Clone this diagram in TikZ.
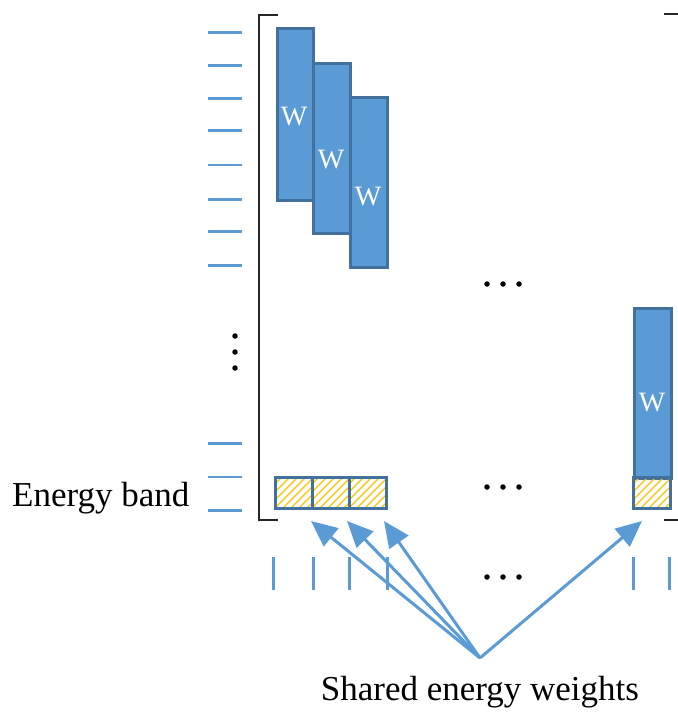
\documentclass[tikz,border=0pt]{standalone}
\usepackage{fontspec}
\setmainfont{Liberation Serif}
\usetikzlibrary{arrows.meta}
\definecolor{wfill}{HTML}{5B9BD5}
\definecolor{wedge}{HTML}{41719C}
\definecolor{hatchc}{HTML}{FFC000}
\tikzset{
  x=1pt, y=-1pt,
  wbox/.style={draw=wedge, fill=wfill, line width=3pt, inner sep=0pt, anchor=north west},
  wlabel/.style={text=white, font=\fontsize{28}{28}\selectfont},
  tick/.style={draw=wfill, line width=3pt},
  thintick/.style={draw=wfill, line width=1.5pt},
  brk/.style={draw=black!85, line width=1.6pt},
  arr/.style={draw=wfill, line width=3pt, -{Triangle[length=26pt,width=23pt]}},
  dot/.style={circle, fill=black, inner sep=0pt, minimum size=5.5pt},
  lbl/.style={font=\fontsize{35}{35}\selectfont},
}
\newcommand{\hatchcell}[2]{%
  % one hatched energy-band cell with its upper-left corner at (#1,#2)
  \begin{scope}
    \clip (#1,#2) rectangle ++(37,31);
    \foreach \k in {-40,-32,...,40}
      \draw[hatchc, line width=1.3pt] (#1+\k,#2+31) -- ++(31,-31);
  \end{scope}
  \draw[wedge, line width=3pt] (#1,#2) rectangle ++(37,31);
}
% three dots in a row (horizontal) centred at (#1,#2)
\newcommand{\hdots}[2]{%
  \foreach \dd in {-16,0,16}
    \node[dot] at (#1+\dd,#2) {};
}
\begin{document}
\begin{tikzpicture}
\useasboundingbox (0,0) rectangle (678,713);

% energy-band ticks on the left
\foreach \yy in {32,65,98,130,199,231,265,443,510}
  \draw[tick] (208,\yy) -- (242,\yy);
\foreach \yy in {165,477}
  \draw[thintick] (208,\yy) -- (242,\yy);
\foreach \yy in {336,352,368}
  \node[dot] at (235,\yy) {};

% matrix brackets
\draw[brk] (278,15) -- (259,15) -- (259,520) -- (278,520);
\draw[brk] (664,14) -- (678,14);
\draw[brk] (664,520) -- (678,520);

% weight columns
\node[wbox, minimum width=36pt, minimum height=172pt] (w1) at (276,27) {};
\node[wbox, minimum width=37pt, minimum height=170pt] (w2) at (312,62) {};
\node[wbox, minimum width=37pt, minimum height=170pt] (w3) at (349,96) {};
\node[wbox, minimum width=37pt, minimum height=170pt] (w4) at (633,307) {};
\node[wlabel] (lw1) at (294,117) {W};
\node[wlabel] (lw2) at (331,160) {W};
\node[wlabel] (lw3) at (368,197) {W};
\node[wlabel] (lw4) at (652,403) {W};

% hatched energy-band cells
\hatchcell{275}{477}
\hatchcell{312}{477}
\hatchcell{349}{477}
\hatchcell{633}{477}
\coordinate (h1) at (311,521);
\coordinate (h2) at (347,521);
\coordinate (h3) at (384,521);
\coordinate (h4) at (642,521);

% ellipses
\hdots{503}{284}
\hdots{503}{487}
\hdots{503}{577}

% input ticks along the bottom
\foreach \xx in {273,313,349,387,633,669}
  \draw[tick] (\xx,557) -- (\xx,590);

% shared weights arrows
\coordinate (src) at (480,658);
\foreach \t in {h1,h2,h3,h4}
  \draw[arr] (src) -- (\t);

% labels
\node[lbl, anchor=west, inner sep=0pt] (eb) at (12,498) {Energy band};
\node[lbl] (sw) at (480,692) {Shared energy weights};
\end{tikzpicture}
\end{document}
